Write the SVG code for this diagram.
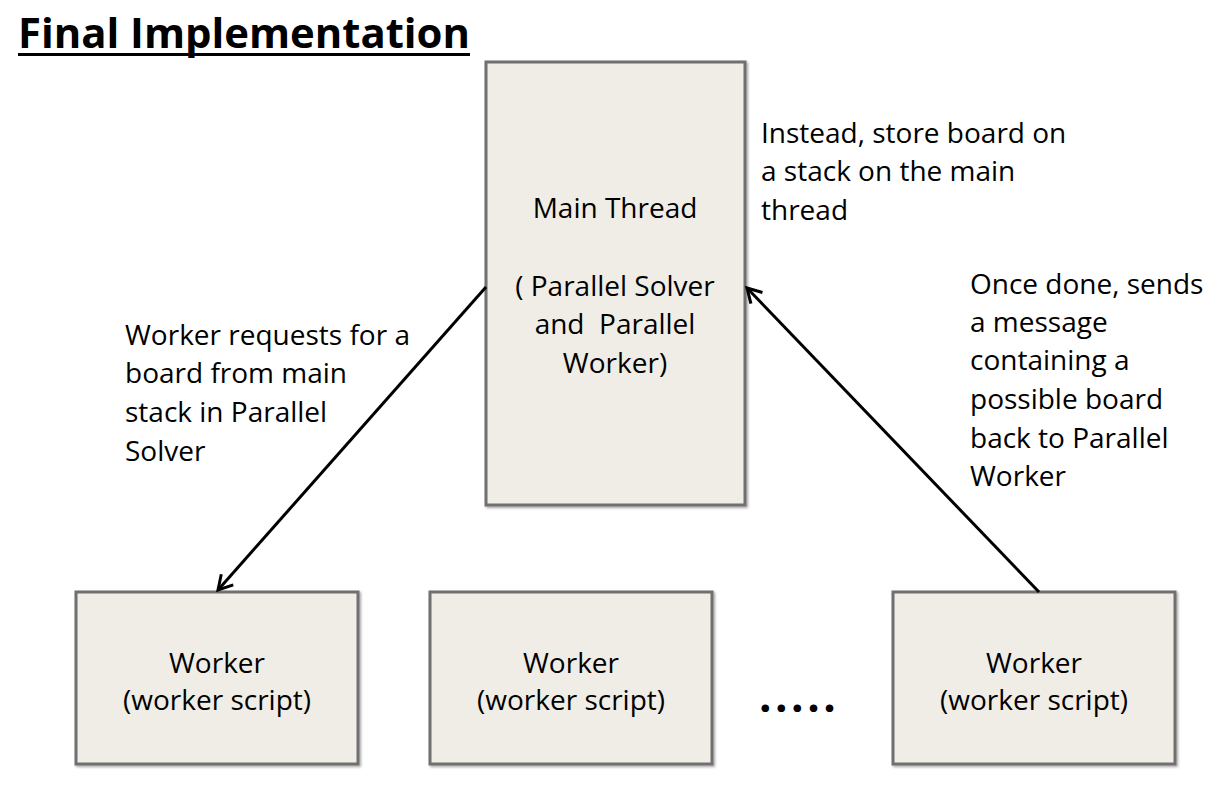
<svg xmlns="http://www.w3.org/2000/svg" width="1222" height="798" viewBox="0 0 1222 798">
<style>
.box{fill:#f0ede6;stroke:#6f6f6f;stroke-width:3}
.t{font-family:"Open Sans","Liberation Sans",sans-serif;font-size:28px;fill:#000;white-space:pre}
.c{text-anchor:middle}
.conn{stroke:#000;stroke-width:3;fill:none}
</style>
<defs>
<marker id="arr" markerUnits="userSpaceOnUse" markerWidth="24" markerHeight="24" viewBox="-20 -12 24 24" refX="0" refY="0" orient="auto">
<path d="M-14,-8 L0,0 L-14,8" fill="none" stroke="#000" stroke-width="3"/>
</marker>
<filter id="sh" x="-10%" y="-10%" width="120%" height="120%">
<feDropShadow dx="1.5" dy="1.5" stdDeviation="1.2" flood-color="#000" flood-opacity="0.35"/>
</filter>
</defs>
<rect width="1222" height="798" fill="#fff"/>
<g id="title">
<text x="18" y="48" font-family="'Open Sans','Liberation Sans',sans-serif" font-weight="bold" font-size="41" textLength="452" lengthAdjust="spacingAndGlyphs">Final Implementation</text>
<rect x="18" y="53" width="452" height="3" fill="#000"/>
</g>
<g id="main">
<rect class="box" x="486" y="62" width="259" height="443" filter="url(#sh)"/>
<text class="t c" x="615" y="218">Main Thread</text>
<text class="t c" x="615" y="296">( Parallel Solver</text>
<text class="t c" x="615" y="334" xml:space="preserve">and  Parallel</text>
<text class="t c" x="615" y="373">Worker)</text>
</g>
<g id="worker1">
<rect class="box" x="76" y="592" width="282" height="172" filter="url(#sh)"/>
<text class="t c" x="217" y="673">Worker</text>
<text class="t c" x="217" y="710">(worker script)</text>
</g>
<g id="worker2">
<rect class="box" x="430" y="592" width="282" height="172" filter="url(#sh)"/>
<text class="t c" x="571" y="673">Worker</text>
<text class="t c" x="571" y="710">(worker script)</text>
</g>
<g id="worker3">
<rect class="box" x="893" y="592" width="282" height="172" filter="url(#sh)"/>
<text class="t c" x="1034" y="673">Worker</text>
<text class="t c" x="1034" y="710">(worker script)</text>
</g>
<g id="ellipsis">
<text x="759" y="712" font-family="'Open Sans','Liberation Sans',sans-serif" font-weight="bold" font-size="44" letter-spacing="3.5">.....</text>
</g>
<g id="connectors">
<line class="conn" x1="486" y1="287" x2="218" y2="590" marker-end="url(#arr)"/>
<line class="conn" x1="1039" y1="592" x2="747" y2="288" marker-end="url(#arr)"/>
</g>
<g id="labels">
<text class="t" x="125" y="345">Worker requests for a</text>
<text class="t" x="125" y="383">board from main</text>
<text class="t" x="125" y="422">stack in Parallel</text>
<text class="t" x="125" y="461">Solver</text>
<text class="t" x="761" y="143">Instead, store board on</text>
<text class="t" x="761" y="181">a stack on the main</text>
<text class="t" x="761" y="220">thread</text>
<text class="t" x="970" y="294">Once done, sends</text>
<text class="t" x="970" y="332">a message</text>
<text class="t" x="970" y="370">containing a</text>
<text class="t" x="970" y="409">possible board</text>
<text class="t" x="970" y="448">back to Parallel</text>
<text class="t" x="970" y="486">Worker</text>
</g>
</svg>
